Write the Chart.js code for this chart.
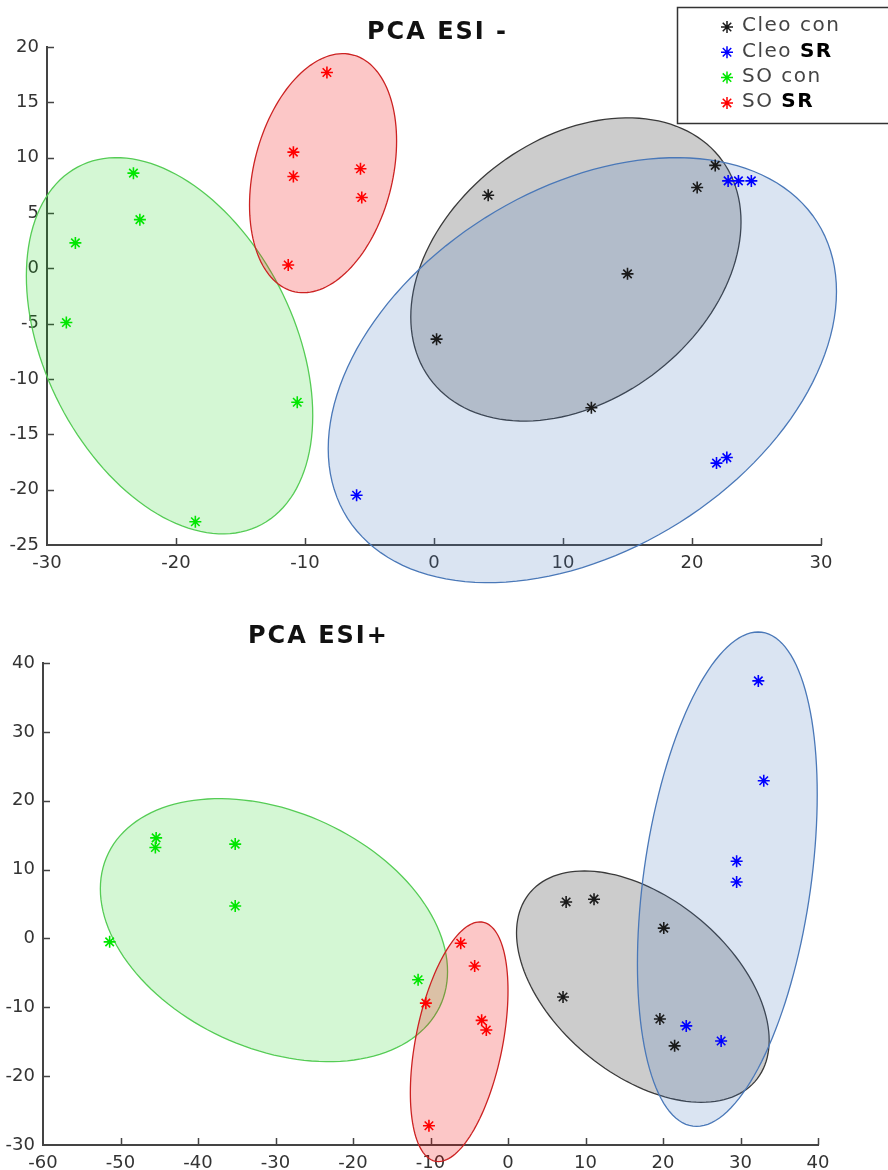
<!DOCTYPE html>
<html>
<head>
<meta charset="utf-8">
<script src="https://cdn.jsdelivr.net/npm/chart.js@4.4.1/dist/chart.umd.min.js"></script>
<style>
html, body { margin: 0; padding: 0; background: #fff; }
#wrap { position: relative; width: 888px; height: 1170px; }
canvas { position: absolute; left: 0; }
#Top { top: 0; }
#Bottom { top: 590px; }
</style>
</head>
<body>
<div id="wrap">
<canvas id="Top" width="888" height="590"></canvas>
<canvas id="Bottom" width="888" height="580"></canvas>
</div>
<script>
const seriesLabels = ['Cleo con', 'Cleo SR', 'SO con', 'SO SR'];
const markerColors = ['#1a1a1a', '#0000ff', '#00e600', '#ff0000'];
const ellipseFills = ['rgba(0, 0, 0, 0.2)', 'rgba(70, 120, 190, 0.2)', 'rgba(0, 210, 0, 0.17)', 'rgba(240, 0, 0, 0.22)'];
const ellipseLines = ['#3a3a3a', '#4a78b8', '#55cc55', '#cc2222'];

// PCA ESI -
const negCleoCon = [{x: 4.2, y: 6.6}, {x: 21.8, y: 9.3}, {x: 20.4, y: 7.3}, {x: 15.0, y: -0.5}, {x: 0.2, y: -6.4}, {x: 12.2, y: -12.6}];
const negCleoSR = [{x: 22.8, y: 7.9}, {x: 23.6, y: 7.9}, {x: 24.6, y: 7.9}, {x: -6.0, y: -20.5}, {x: 21.9, y: -17.6}, {x: 22.7, y: -17.1}];
const negSOCon = [{x: -23.3, y: 8.6}, {x: -22.8, y: 4.4}, {x: -27.8, y: 2.3}, {x: -28.5, y: -4.9}, {x: -10.6, y: -12.1}, {x: -18.5, y: -22.9}];
const negSOSR = [{x: -8.3, y: 17.7}, {x: -10.9, y: 10.5}, {x: -10.9, y: 8.3}, {x: -5.7, y: 9.0}, {x: -5.6, y: 6.4}, {x: -11.3, y: 0.3}];
// group ellipses: centre, half width, half height, y offset at the rightmost point
const negEllipses = [
    {cx: 11.0, cy: -0.1, rx: 12.8, ry: 13.7, tilt: 4.3},
    {cx: 11.5, cy: -9.2, rx: 19.7, ry: 19.2, tilt: 7.1},
    {cx: -20.5, cy: -7.0, rx: 11.1, ry: 17.0, tilt: -6.3},
    {cx: -8.6, cy: 8.6, rx: 5.7, ry: 10.8, tilt: 2.9}
];
const negXTicks = [-30, 30, 10];
const negYTicks = [-25, 20, 5];

// PCA ESI+
const posCleoCon = [{x: 7.5, y: 5.3}, {x: 11.1, y: 5.7}, {x: 20.1, y: 1.5}, {x: 7.1, y: -8.5}, {x: 19.6, y: -11.7}, {x: 21.5, y: -15.6}];
const posCleoSR = [{x: 32.3, y: 37.4}, {x: 33.0, y: 22.9}, {x: 29.5, y: 11.2}, {x: 29.5, y: 8.2}, {x: 23.0, y: -12.7}, {x: 27.5, y: -14.9}];
const posSOCon = [{x: -45.4, y: 14.6}, {x: -45.5, y: 13.2}, {x: -35.2, y: 13.7}, {x: -35.2, y: 4.7}, {x: -51.4, y: -0.5}, {x: -11.6, y: -6.0}];
const posSOSR = [{x: -10.6, y: -9.4}, {x: -10.2, y: -27.2}, {x: -6.1, y: -0.7}, {x: -4.3, y: -4.0}, {x: -3.4, y: -11.9}, {x: -2.8, y: -13.3}];
const posEllipses = [
    {cx: 17.4, cy: -7.0, rx: 16.3, ry: 16.8, tilt: -7.8},
    {cx: 28.3, cy: 8.6, rx: 11.6, ry: 35.9, tilt: 12.3},
    {cx: -30.2, cy: 1.2, rx: 22.4, ry: 19.1, tilt: -6.0},
    {cx: -6.3, cy: -15.0, rx: 6.3, ry: 17.4, tilt: 7.4}
];
const posXTicks = [-60, 40, 10];
const posYTicks = [-30, 40, 10];

function traceEllipse(ctx, xs, ys, e) {
    const q = Math.sqrt(Math.max(e.ry * e.ry - e.tilt * e.tilt, 0));
    ctx.beginPath();
    for (let i = 0; i <= 144; i++) {
        const a = i / 144 * Math.PI * 2;
        const px = xs.getPixelForValue(e.cx + e.rx * Math.cos(a));
        const py = ys.getPixelForValue(e.cy + e.tilt * Math.cos(a) + q * Math.sin(a));
        if (i === 0) ctx.moveTo(px, py); else ctx.lineTo(px, py);
    }
    ctx.closePath();
}

// inward tick marks + confidence ellipses, under the points
const pcaDecor = {
    id: 'pcaDecor',
    beforeDatasetsDraw(chart, args, opts) {
        const ctx = chart.ctx;
        const xs = chart.scales.x, ys = chart.scales.y;
        const area = chart.chartArea;
        ctx.save();
        ctx.strokeStyle = '#444';
        ctx.lineWidth = 1.5;
        ctx.beginPath();
        xs.ticks.forEach(t => {
            const px = Math.round(xs.getPixelForValue(t.value)) + 0.5;
            if (px - area.left < 2) return;
            ctx.moveTo(px, area.bottom);
            ctx.lineTo(px, area.bottom - 7);
        });
        ys.ticks.forEach(t => {
            const py = Math.round(ys.getPixelForValue(t.value)) + 0.5;
            if (area.bottom - py < 2) return;
            ctx.moveTo(area.left, py);
            ctx.lineTo(area.left + 7, py);
        });
        ctx.stroke();

        opts.ellipses.forEach((e, i) => {
            traceEllipse(ctx, xs, ys, e);
            ctx.fillStyle = ellipseFills[i];
            ctx.fill();
            ctx.strokeStyle = ellipseLines[i];
            ctx.lineWidth = 1.3;
            ctx.stroke();
        });
        ctx.restore();
    },
    afterDraw(chart, args, opts) {
        const ctx = chart.ctx;
        ctx.save();
        ctx.letterSpacing = '2px';
        ctx.font = 'bold 24px "DejaVu Sans"';
        ctx.fillStyle = '#111';
        ctx.textBaseline = 'middle';
        ctx.textAlign = 'left';
        ctx.fillText(opts.title, opts.titleX, opts.titleY);
        ctx.restore();

        if (!opts.legend) return;
        ctx.save();
        ctx.fillStyle = '#fff';
        ctx.fillRect(677, 7, 215, 116);
        ctx.strokeStyle = '#333';
        ctx.lineWidth = 1.5;
        ctx.strokeRect(677.5, 7.5, 215, 116);
        ctx.textBaseline = 'middle';
        ctx.letterSpacing = '1.5px';
        seriesLabels.forEach((label, i) => {
            const y = 26 + i * 25.3;
            ctx.strokeStyle = markerColors[i];
            ctx.lineWidth = 1.5;
            Chart.helpers.drawPoint(ctx, {pointStyle: 'star', radius: 6, rotation: 0, borderWidth: 1.5}, 727, y + 1);
            let x = 742;
            label.split(' ').forEach(word => {
                const bold = word === 'SR';
                ctx.font = (bold ? 'bold ' : '') + '20px "DejaVu Sans"';
                ctx.fillStyle = bold ? '#000' : '#444';
                ctx.fillText(word, x, y);
                x += ctx.measureText(word + ' ').width;
            });
        });
        ctx.restore();
    }
};

function makeDatasets(groups) {
    return groups.map((pts, i) => ({
        label: seriesLabels[i],
        data: pts,
        pointStyle: 'star',
        pointRadius: 6,
        pointHoverRadius: 6,
        borderWidth: 1.6,
        borderColor: markerColors[i],
        backgroundColor: markerColors[i]
    }));
}

function axis(range, fitFn) {
    return {
        type: 'linear',
        min: range[0],
        max: range[1],
        ticks: {
            stepSize: range[2],
            color: '#333',
            padding: 8,
            maxRotation: 0,
            font: {family: '"DejaVu Sans"', size: 18}
        },
        grid: {display: false, drawTicks: false},
        border: {display: true, color: '#444', width: 2},
        afterFit: fitFn
    };
}

new Chart(document.getElementById('Top'), {
    type: 'scatter',
    data: {datasets: makeDatasets([negCleoCon, negCleoSR, negSOCon, negSOSR])},
    options: {
        responsive: false,
        animation: false,
        devicePixelRatio: 1,
        layout: {padding: {top: 47, right: 67, left: 0, bottom: 0}},
        scales: {
            x: axis(negXTicks, s => { s.height = 45; }),
            y: axis(negYTicks, s => { s.width = 47; })
        },
        plugins: {
            legend: {display: false},
            tooltip: {enabled: false},
            pcaDecor: {ellipses: negEllipses, title: 'PCA ESI -', titleX: 367, titleY: 33, legend: true}
        }
    },
    plugins: [pcaDecor]
});

new Chart(document.getElementById('Bottom'), {
    type: 'scatter',
    data: {datasets: makeDatasets([posCleoCon, posCleoSR, posSOCon, posSOSR])},
    options: {
        responsive: false,
        animation: false,
        devicePixelRatio: 1,
        layout: {padding: {top: 73, right: 70, left: 0, bottom: 0}},
        scales: {
            x: axis(posXTicks, s => { s.height = 25; }),
            y: axis(posYTicks, s => { s.width = 43; })
        },
        plugins: {
            legend: {display: false},
            tooltip: {enabled: false},
            pcaDecor: {ellipses: posEllipses, title: 'PCA ESI+', titleX: 248, titleY: 47, legend: false}
        }
    },
    plugins: [pcaDecor]
});
</script>
</body>
</html>
